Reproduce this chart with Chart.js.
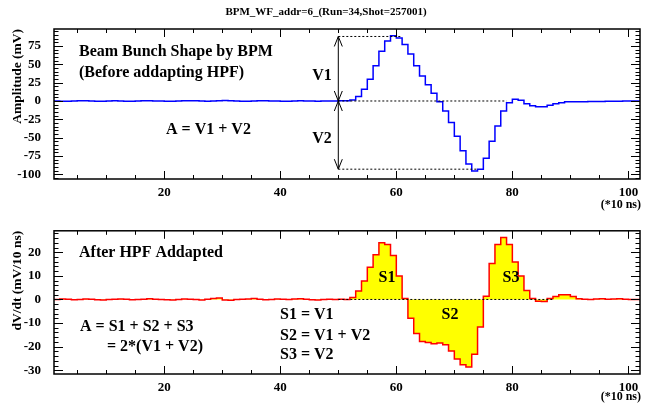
<!DOCTYPE html>
<html>
<head>
<meta charset="UTF-8">
<title>BPM_WF_addr=6_(Run=34,Shot=257001)</title>
<script src="https://cdn.jsdelivr.net/npm/chart.js"></script>
<style>
  body { margin: 0; background: #FFFFFF; }
  .panel { position: absolute; left: 0; width: 649px; }
</style>
</head>
<body>
<div class="panel" style="top:0;height:215px"><canvas id="topChart"></canvas></div>
<div class="panel" style="top:210px;height:193px"><canvas id="bottomChart"></canvas></div>

<script>
// bins are 10 ns wide, the first one starts at 1
const firstBin = 1;

// beam bunch shape, mV per bin (bins 1..101)
const amplitude = [
  0.2, 0.1, -0.3, -0.2, 0.0, 0.3, 0.2, -0.1, -0.4, -0.2, 0.1, 0.3, 0.1,
  -0.2, -0.3, 0.0, 0.2, 0.4, 0.1, -0.1, -0.3, -0.2, 0.1, 0.3, 0.5, 0.2,
  -0.1, -0.2, 0.0, 0.4, 0.6, 0.3, 0.0, -0.2, -0.4, -0.1, 0.2, 0.3, 0.1,
  -0.1, -0.3, -0.2, 0.0, 0.2, 0.1, -0.1, -0.2, 0.0, 0.1, 0.0, 0.2, 0.4,
  1.4, 6, 16, 29.5, 48, 68, 82, 89, 86, 77, 64, 48, 34,
  22, 10.5, -1, -13.6, -29.5, -48, -68, -86, -95.5, -93, -78, -55, -34,
  -13.6, -2.3, 2.3, 1, -3.6, -6.4, -7.7, -8, -5.9, -3.6, -2.3, -1, -1.2,
  -1, -1, -0.8, -0.8, -0.6, -0.5, -0.3, -0.3, 0, 0
];

// after HPF, mV per 10 ns (bins 1..101)
const derivative = [
  0.1, 0.0, 0.2, 0.1, -0.1, 0.0, 0.2, 0.1, -0.1, -0.2, 0.0, 0.1, 0.2,
  0.1, -0.1, 0.0, 0.1, 0.3, 0.1, 0.0, -0.1, -0.2, 0.0, 0.2, 0.1, 0.0,
  -0.2, 0.1, 0.4, 0.6, -0.2, -0.3, 0.0, 0.1, 0.2, 0.4, 0.1, -0.1, 0.0,
  0.2, 0.1, 0.0, 0.2, 0.3, 0.1, -0.1, -0.2, 0.0, 0.1, 0.0, 0.1, 0.0,
  0.8, 3.6, 7.8, 13.6, 19, 24, 23.3, 18.6, 9.9, 0.4, -8, -14.4, -17.8,
  -18.2, -18.8, -18.5, -19.2, -21.9, -25.2, -27.7, -28.6, -23.2, -11.7, 1.4, 15.2, 23.3,
  26.3, 23.3, 15.9, 9.9, 3.8, 0.4, -0.8, -0.9, 0.4, 1.3, 2.0, 2.0, 1.2,
  0.3, 0.1, 0.0, 0.2, 0.3, 0.1, 0.2, 0.3, 0.1, 0.0
];

const timeTicks = [20, 40, 60, 80, 100];
const ampTicks = [-100, -75, -50, -25, 0, 25, 50, 75];
const derTicks = [-30, -20, -10, 0, 10, 20];

// V1 / V2 guide levels (mV) and where the guides sit on the time axis
const v1Level = 88;
const v2Level = -93;
const guideBin = 50;

const FONT = '"Liberation Serif", "Times New Roman", serif';

function toSteps(values) {
  const pts = values.map((v, i) => ({ x: firstBin + i, y: v }));
  pts.push({ x: firstBin + values.length, y: values[values.length - 1] });
  return pts;
}

function txt(ctx, s, x, y, size, align) {
  ctx.font = 'bold ' + size + 'px ' + FONT;
  ctx.textAlign = align || 'left';
  ctx.textBaseline = 'middle';
  ctx.fillStyle = '#000';
  ctx.fillText(s, x, y);
}

// ROOT-like frame with inward ticks on all four sides
function drawFrame(chart, xMajor, xMinor, yMajor, yMinor) {
  const { ctx, chartArea: a, scales: { x, y } } = chart;
  ctx.save();
  ctx.strokeStyle = '#000';
  ctx.lineWidth = 1.5;
  ctx.strokeRect(a.left, a.top, a.right - a.left, a.bottom - a.top);
  ctx.lineWidth = 1;
  ctx.beginPath();
  for (let v = Math.ceil(x.min / xMinor) * xMinor; v < x.max; v += xMinor) {
    const px = Math.round(x.getPixelForValue(v)) + 0.5;
    const len = v % xMajor === 0 ? 8 : 4;
    ctx.moveTo(px, a.bottom); ctx.lineTo(px, a.bottom - len);
    ctx.moveTo(px, a.top); ctx.lineTo(px, a.top + len);
  }
  for (let v = Math.ceil(y.min / yMinor) * yMinor; v < y.max; v += yMinor) {
    const py = Math.round(y.getPixelForValue(v)) + 0.5;
    const len = v % yMajor === 0 ? 9 : 4.5;
    ctx.moveTo(a.left, py); ctx.lineTo(a.left + len, py);
    ctx.moveTo(a.right, py); ctx.lineTo(a.right - len, py);
  }
  ctx.stroke();
  ctx.restore();
}

function arrowHead(ctx, x, y, dir) {
  // dir = -1 tip points up, +1 tip points down
  ctx.moveTo(x - 4, y - dir * 10);
  ctx.lineTo(x, y);
  ctx.lineTo(x + 4, y - dir * 10);
}

const topDecor = {
  id: 'topDecor',
  afterDatasetsDraw(chart) {
    const { ctx, scales: { x, y } } = chart;
    drawFrame(chart, 20, 5, 25, 5);
    const ax = x.getPixelForValue(guideBin);
    const yTop = y.getPixelForValue(v1Level);
    const y0 = y.getPixelForValue(0);
    const yBot = y.getPixelForValue(v2Level);
    ctx.save();
    ctx.strokeStyle = '#000';
    ctx.lineWidth = 1;
    ctx.setLineDash([2, 2]);
    ctx.beginPath();
    ctx.moveTo(ax, yTop); ctx.lineTo(x.getPixelForValue(61), yTop);
    ctx.moveTo(ax, y0); ctx.lineTo(x.getPixelForValue(79), y0);
    ctx.moveTo(ax, yBot); ctx.lineTo(x.getPixelForValue(74), yBot);
    ctx.stroke();
    ctx.setLineDash([]);
    ctx.beginPath();
    ctx.moveTo(ax, yTop); ctx.lineTo(ax, yBot);
    arrowHead(ctx, ax, yTop, -1);
    arrowHead(ctx, ax, y0, 1);
    arrowHead(ctx, ax, y0, -1);
    arrowHead(ctx, ax, yBot, 1);
    ctx.stroke();
    ctx.restore();

    txt(ctx, 'BPM_WF_addr=6_(Run=34,Shot=257001)', 326, 12, 11, 'center');
    txt(ctx, 'Beam Bunch Shape by BPM', 79, 52, 16);
    txt(ctx, '(Before addapting HPF)', 79, 73, 16);
    txt(ctx, 'V1', 322, 76, 16, 'center');
    txt(ctx, 'V2', 322, 139, 16, 'center');
    txt(ctx, 'A = V1 + V2', 166, 130, 16);
    txt(ctx, '(*10 ns)', 641, 205, 12, 'right');
  }
};

const bottomDecor = {
  id: 'bottomDecor',
  afterDatasetsDraw(chart) {
    const { ctx, scales: { x, y } } = chart;
    const y0 = y.getPixelForValue(0);
    ctx.save();
    ctx.strokeStyle = '#000';
    ctx.lineWidth = 1;
    ctx.setLineDash([2, 2]);
    ctx.beginPath();
    ctx.moveTo(x.getPixelForValue(guideBin), y0);
    ctx.lineTo(x.getPixelForValue(87), y0);
    ctx.stroke();
    ctx.restore();
    drawFrame(chart, 20, 5, 10, 2);

    txt(ctx, 'After HPF Addapted', 79, 43, 16);
    txt(ctx, 'S1', 387, 68, 16, 'center');
    txt(ctx, 'S2', 450, 105, 16, 'center');
    txt(ctx, 'S3', 511, 68, 16, 'center');
    txt(ctx, 'S1 = V1', 280, 105, 16);
    txt(ctx, 'S2 = V1 + V2', 280, 126, 16);
    txt(ctx, 'S3 = V2', 280, 145, 16);
    txt(ctx, 'A = S1 + S2 + S3', 80, 117, 16);
    txt(ctx, '= 2*(V1 + V2)', 107, 137, 16);
    txt(ctx, '(*10 ns)', 641, 187, 12, 'right');
  }
};

function xScale(axisHeight) {
  return {
    type: 'linear',
    min: 1,
    max: 102,
    grid: { display: false, drawTicks: false },
    border: { display: false },
    afterBuildTicks: s => { s.ticks = timeTicks.map(v => ({ value: v })); },
    afterFit: s => { s.height = axisHeight; },
    ticks: {
      color: '#000',
      padding: 6,
      maxRotation: 0,
      font: { family: FONT, weight: 'bold', size: 13 }
    }
  };
}

function yScale(min, max, tickList, title) {
  return {
    min: min,
    max: max,
    grid: { display: false, drawTicks: false },
    border: { display: false },
    afterBuildTicks: s => { s.ticks = tickList.map(v => ({ value: v })); },
    afterFit: s => { s.width = 54; },
    ticks: {
      color: '#000',
      padding: 13,
      font: { family: FONT, weight: 'bold', size: 13 }
    },
    title: {
      display: true,
      text: title,
      align: 'end',
      color: '#000',
      padding: { top: 9, bottom: 0 },
      font: { family: FONT, weight: 'bold', size: 13.5 }
    }
  };
}

function makeChart(id, values, lineColor, fillColor, yMin, yMax, tickList, title, padTop, axisHeight, decor) {
  return new Chart(document.getElementById(id), {
    type: 'line',
    data: {
      datasets: [{
        data: toSteps(values),
        stepped: 'after',
        borderColor: lineColor,
        borderWidth: 1.5,
        backgroundColor: fillColor || 'transparent',
        fill: fillColor ? 'origin' : false,
        pointRadius: 0
      }]
    },
    options: {
      responsive: true,
      maintainAspectRatio: false,
      animation: false,
      layout: { padding: { top: padTop, right: 9, left: 0, bottom: 0 } },
      plugins: { legend: { display: false }, tooltip: { enabled: false } },
      scales: {
        x: xScale(axisHeight),
        y: yScale(yMin, yMax, tickList, title)
      }
    },
    plugins: [decor]
  });
}

makeChart('topChart', amplitude, '#0000FF', null, -106.4, 98.2, ampTicks,
  'Amplitude (mV)', 29, 36, topDecor);
makeChart('bottomChart', derivative, '#FF0000', '#FFFF00', -31.6, 29.1, derTicks,
  'dV/dt (mV/10 ns)', 14, 29, bottomDecor);
</script>
</body>
</html>
